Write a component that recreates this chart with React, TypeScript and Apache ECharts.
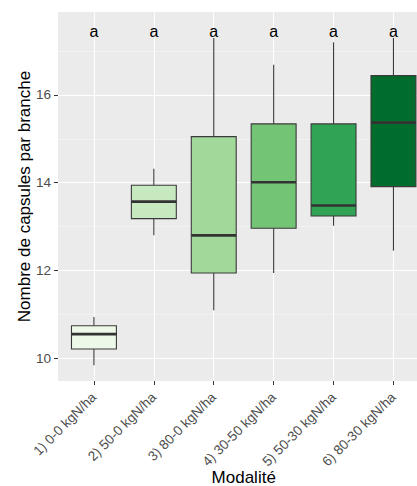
import React, { useEffect, useRef } from "react";
import * as echarts from "echarts";

// Treatments (nitrogen split) and capsule counts per branch
const categories = [
  "1) 0-0 kgN/ha",
  "2) 50-0 kgN/ha",
  "3) 80-0 kgN/ha",
  "4) 30-50 kgN/ha",
  "5) 50-30 kgN/ha",
  "6) 80-30 kgN/ha",
];
const whiskerLow = [9.84, 12.8, 11.09, 11.94, 13.02, 12.45];
const quartile1 = [10.21, 13.18, 11.94, 12.96, 13.24, 13.91];
const median = [10.55, 13.57, 12.8, 14.01, 13.48, 15.37];
const quartile3 = [10.74, 13.94, 15.05, 15.34, 15.34, 16.44];
const whiskerHigh = [10.94, 14.32, 17.3, 16.69, 17.2, 17.3];
const groupLetters = ["a", "a", "a", "a", "a", "a"];
const fills = ["#edf8e9", "#c7e9c0", "#a1d99b", "#74c476", "#31a354", "#006d2c"];
const yTicks = [10, 12, 14, 16];
const yMinor = [11, 13, 15, 17];

const FONT = "'Liberation Sans', Arial, sans-serif";
const BOX_WIDTH = 0.75;
const LETTER_Y = 17.45;
const Y_MIN = 9.48;
const Y_MAX = 17.89;

export default function App() {
  const ref = useRef<HTMLDivElement>(null);

  useEffect(() => {
    if (!ref.current) return;
    const chart = echarts.init(ref.current, undefined, { renderer: "svg" });
    const positions = categories.map((_, i) => i + 1);

    const boxData = categories.map((_, i) => [
      i + 1,
      whiskerLow[i],
      quartile1[i],
      median[i],
      quartile3[i],
      whiskerHigh[i],
    ]);
    const letterData = groupLetters.map((_, i) => [i + 1, LETTER_Y]);

    const option: any = {
      animation: false,
      backgroundColor: "#ffffff",
      textStyle: { fontFamily: FONT },
      grid: {
        left: 58,
        top: 12,
        bottom: 105,
        right: -12.4,
        show: true,
        backgroundColor: "#ebebeb",
        borderWidth: 0,
        containLabel: false,
        outerBoundsMode: "none",
      },
      xAxis: {
        type: "value",
        min: 0.4,
        max: 6.6,
        name: "Modalité",
        nameLocation: "middle",
        nameGap: 88,
        nameMoveOverlap: false,
        nameTextStyle: { fontSize: 17, color: "#000", fontFamily: FONT },
        axisLine: { show: false },
        axisTick: {
          show: true,
          length: 4,
          customValues: positions,
          lineStyle: { color: "#333", width: 1 },
        },
        axisLabel: {
          customValues: positions,
          rotate: 45,
          margin: 14,
          padding: [14, 0, 0, 0],
          fontSize: 13.6,
          color: "#4d4d4d",
          fontFamily: FONT,
          formatter: (v: number) => categories[Math.round(v) - 1] ?? "",
        },
        splitLine: { show: true, lineStyle: { color: "#ffffff", width: 1.1 } },
      },
      yAxis: [
        {
          type: "value",
          min: Y_MIN,
          max: Y_MAX,
          name: "Nombre de capsules par branche",
          nameLocation: "middle",
          nameGap: 25,
          nameMoveOverlap: false,
          nameTextStyle: { fontSize: 17, color: "#000", fontFamily: FONT },
          axisLine: { show: false },
          axisTick: {
            show: true,
            length: 4,
            customValues: yTicks,
            lineStyle: { color: "#333", width: 1 },
          },
          axisLabel: {
            customValues: yTicks,
            margin: 7,
            fontSize: 13.6,
            color: "#4d4d4d",
            fontFamily: FONT,
          },
          splitLine: { show: true, lineStyle: { color: "#ffffff", width: 1.1 } },
        },
        {
          type: "value",
          min: Y_MIN,
          max: Y_MAX,
          position: "left",
          axisLine: { show: false },
          axisTick: { show: false, customValues: yMinor },
          axisLabel: { show: false, customValues: yMinor },
          splitLine: { show: true, lineStyle: { color: "#f7f7f7", width: 0.6 } },
        },
      ],
      series: [
        {
          type: "custom",
          name: "boxes",
          xAxisIndex: 0,
          yAxisIndex: 0,
          z: 3,
          clip: false,
          encode: { x: 0, y: [1, 2, 3, 4, 5] },
          data: boxData,
          renderItem: (params: any, api: any) => {
            const x = api.value(0);
            const lo = api.coord([x, api.value(1)]);
            const b1 = api.coord([x, api.value(2)]);
            const md = api.coord([x, api.value(3)]);
            const b3 = api.coord([x, api.value(4)]);
            const hi = api.coord([x, api.value(5)]);
            const w = api.size([BOX_WIDTH, 0])[0];
            const cx = lo[0];
            const whisker = { stroke: "#3a3a3a", lineWidth: 1.1 };
            return {
              type: "group",
              children: [
                { type: "line", shape: { x1: cx, y1: hi[1], x2: cx, y2: b3[1] }, style: whisker },
                { type: "line", shape: { x1: cx, y1: b1[1], x2: cx, y2: lo[1] }, style: whisker },
                {
                  type: "rect",
                  shape: { x: cx - w / 2, y: b3[1], width: w, height: b1[1] - b3[1] },
                  style: { fill: fills[params.dataIndex], stroke: "#3a3a3a", lineWidth: 1.1 },
                },
                {
                  type: "line",
                  shape: { x1: cx - w / 2, y1: md[1], x2: cx + w / 2, y2: md[1] },
                  style: { stroke: "#333333", lineWidth: 2.7 },
                },
              ],
            };
          },
        },
        {
          type: "custom",
          name: "letters",
          xAxisIndex: 0,
          yAxisIndex: 0,
          z: 4,
          clip: false,
          encode: { x: 0, y: 1 },
          data: letterData,
          renderItem: (params: any, api: any) => {
            const p = api.coord([api.value(0), api.value(1)]);
            return {
              type: "text",
              x: p[0],
              y: p[1],
              style: {
                text: groupLetters[params.dataIndex],
                align: "center",
                verticalAlign: "middle",
                fill: "#000000",
                fontSize: 16,
                fontFamily: FONT,
              },
            };
          },
        },
      ],
    };

    chart.setOption(option);
    return () => chart.dispose();
  }, []);

  return (
    <div
      ref={ref}
      style={{ position: "fixed", left: 0, top: 0, width: 417, height: 486, background: "#fff" }}
    />
  );
}
